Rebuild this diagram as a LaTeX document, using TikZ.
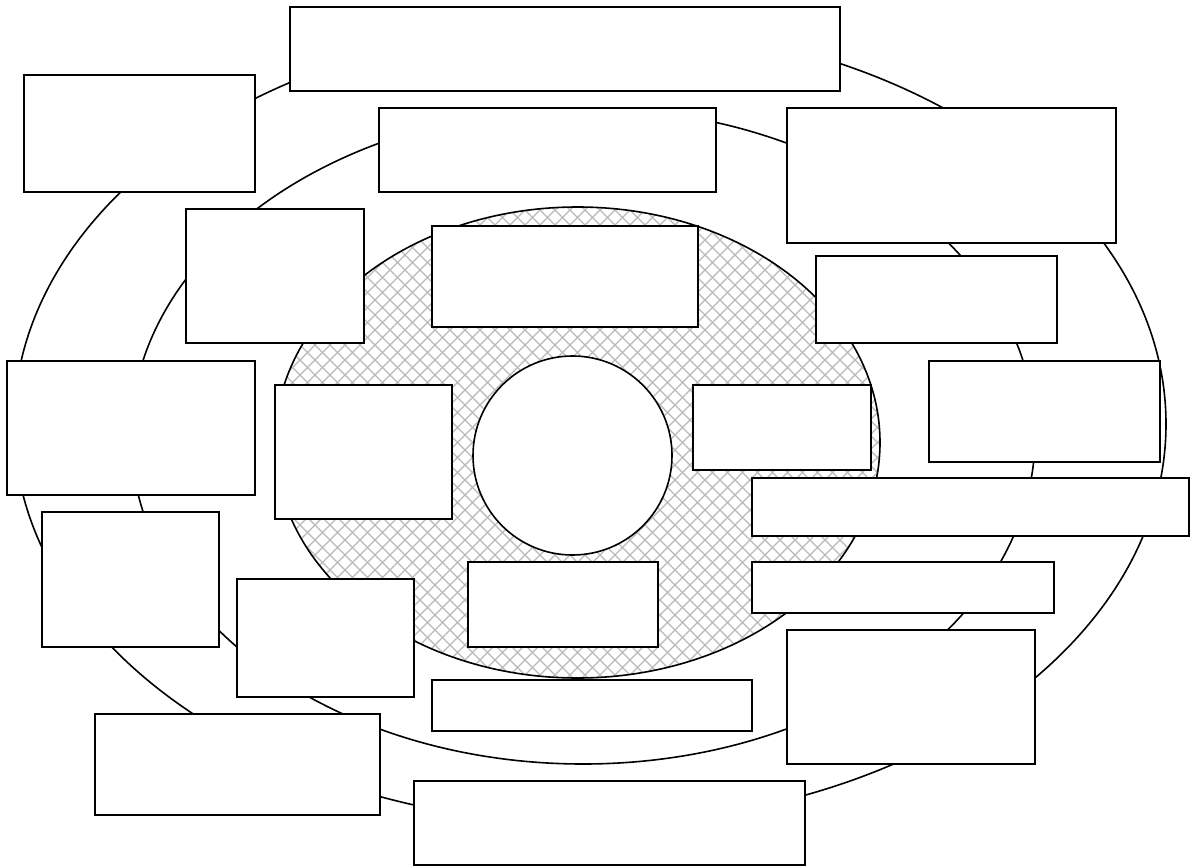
\documentclass[tikz,border=0pt]{standalone}
\usetikzlibrary{shapes.geometric,fit}
\begin{document}
\begin{tikzpicture}[x=1pt,y=-1pt,
  ring/.style={draw=black,line width=1.6pt,ellipse,inner sep=0pt},
  box/.style={draw=black,fill=white,line width=1.6pt,rectangle,inner sep=0pt},
  hatch/.style={draw=gray!55,line width=1.1pt}]
\useasboundingbox[fill=white] (0,0) rectangle (1193,867);
% rings
\node[ring,minimum width=1152pt,minimum height=800pt] (outer) at (590,424) {};
\node[ring,minimum width=904pt,minimum height=656pt] (middle) at (583,436) {};
% hatched ellipse
\begin{scope}
  \clip (577.5,442.5) ellipse [x radius=302.5, y radius=235.5];
  \foreach \c in {465,480,...,1575} \draw[hatch] (\c,180) -- (\c-520,700);
  \foreach \c in {-420,-405,...,690} \draw[hatch] (\c+180,180) -- (\c+700,700);
\end{scope}
\node[ring,minimum width=605pt,minimum height=471pt] (core) at (577.5,442.5) {};
\node[ring,circle,fill=white,minimum size=199pt] (hub) at (572.5,455.5) {};
% boxes
\node[box,fit={(290,7) (840,91)}] (b1) {};
\node[box,fit={(24,75) (255,192)}] (b2) {};
\node[box,fit={(379,108) (716,192)}] (b3) {};
\node[box,fit={(787,108) (1116,243)}] (b4) {};
\node[box,fit={(186,209) (364,343)}] (b5) {};
\node[box,fit={(432,226) (698,327)}] (b6) {};
\node[box,fit={(816,256) (1057,343)}] (b7) {};
\node[box,fit={(7,361) (255,495)}] (b8) {};
\node[box,fit={(929,361) (1160,462)}] (b9) {};
\node[box,fit={(275,385) (452,519)}] (b10) {};
\node[box,fit={(693,385) (871,470)}] (b11) {};
\node[box,fit={(752,478) (1189,536)}] (b12) {};
\node[box,fit={(42,512) (219,647)}] (b13) {};
\node[box,fit={(752,562) (1054,613)}] (b14) {};
\node[box,fit={(468,562) (658,647)}] (b15) {};
\node[box,fit={(237,579) (414,697)}] (b16) {};
\node[box,fit={(787,630) (1035,764)}] (b17) {};
\node[box,fit={(432,680) (752,731)}] (b18) {};
\node[box,fit={(95,714) (380,815)}] (b19) {};
\node[box,fit={(414,781) (805,865)}] (b20) {};
\end{tikzpicture}
\end{document}
